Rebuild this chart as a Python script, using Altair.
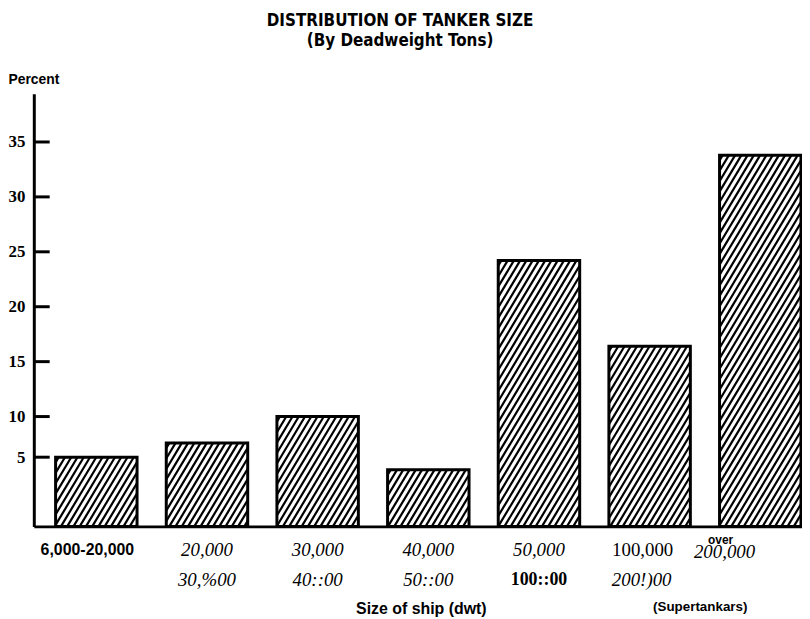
import altair as alt
import pandas as pd

# ---- data ----
line1 = ["6,000-20,000", "20,000", "30,000", "40,000", "50,000", "100,000", "200,000"]
line2 = ["", "30,%00", "40::00", "50::00", "100::00", "200!)00", ""]
percent = [6.3, 7.6, 10.0, 5.15, 24.2, 16.4, 33.8]
tick_vals = [6.3, 10, 15, 20, 25, 30, 35]
tick_labels = ["5", "10", "15", "20", "25", "30", "35"]

# ---- layout ----
W, H = 774, 436
X_DOM = [-0.565, 6.377]
Y_DOM = [0, 39.4]
HALF = 0.368

bars = pd.DataFrame({"idx": list(range(len(percent))), "percent": percent,
                     "l1": line1, "l2": line2})
bars["x0"] = bars["idx"] - HALF
bars["x1"] = bars["idx"] + HALF

# ---- hatch lines (decoration, derived from bar extents) ----
pxx = W / (X_DOM[1] - X_DOM[0])
pxy = H / (Y_DOM[1] - Y_DOM[0])
slope = 0.6 * pxy / pxx       # data-x per data-y
step = 6.3 / pxx              # horizontal spacing in data-x
rows = []
for i, v in enumerate(percent):
    left, right = i - HALF, i + HALF
    xb = left - slope * v + step * 0.5
    while xb < right:
        ys = max(0.0, (left - xb) / slope)
        ye = min(v, (right - xb) / slope)
        if ye > ys:
            rows.append({"hx": xb + slope * ys, "hy": ys,
                         "hx2": xb + slope * ye, "hy2": ye})
        xb += step
hatch = pd.DataFrame(rows)

xs = alt.Scale(domain=X_DOM, nice=False, zero=False)
ys_ = alt.Scale(domain=Y_DOM, nice=False, zero=False)

label_expr = "datum.value < 8 ? '5' : datum.label"

X_AX = alt.Axis(labels=False, ticks=False, grid=False,
                domainColor="black", domainWidth=3,
                title="Size of ship (dwt)", titleFont="Liberation Sans",
                titleFontSize=16, titleFontWeight="bold", titleColor="black",
                titleX=390, titleY=83, titleBaseline="middle")
Y_AX = alt.Axis(values=tick_vals, labelExpr=label_expr, ticks=False, grid=False,
                domainColor="black", domainWidth=3,
                labelFont="Liberation Serif", labelFontSize=17,
                labelFontWeight="bold", labelColor="black", labelPadding=9,
                title="Percent", titleAngle=0, titleAlign="left",
                titleBaseline="middle", titleX=-26, titleY=-14,
                titleFont="Liberation Sans", titleFontSize=14,
                titleFontWeight="bold", titleColor="black")

hatch_layer = alt.Chart(hatch).mark_rule(color="black", strokeWidth=2.2).encode(
    x=alt.X("hx:Q", scale=xs, axis=X_AX),
    y=alt.Y("hy:Q", scale=ys_, axis=Y_AX),
    x2="hx2:Q", y2="hy2:Q",
)

bar_layer = alt.Chart(bars).mark_rect(
    fill="white", fillOpacity=0, stroke="black", strokeWidth=3
).encode(
    x=alt.X("x0:Q", scale=xs, axis=X_AX),
    x2="x1:Q",
    y=alt.Y("percent:Q", scale=ys_, axis=Y_AX),
    y2=alt.datum(0),
)

tick_df = pd.DataFrame({"t": tick_vals, "lab": tick_labels})
tick_layer = alt.Chart(tick_df).mark_rule(color="black", strokeWidth=3).encode(
    y=alt.Y("t:Q", scale=ys_, axis=Y_AX),
    x=alt.value(0), x2=alt.value(16),
)


def label_layer(field, idxs, y, font, size, style="normal", weight="normal", dx=0):
    return alt.Chart(bars).transform_filter(
        alt.FieldOneOfPredicate(field="idx", oneOf=idxs)
    ).mark_text(font=font, fontSize=size, fontStyle=style, fontWeight=weight,
                color="black", baseline="middle", align="center", dx=dx).encode(
        x=alt.X("idx:Q", scale=xs, axis=X_AX),
        y=alt.value(y),
        text=f"{field}:N",
    )


labels = [
    label_layer("l1", [0], 460, "Liberation Sans", 16, weight="bold", dx=-9),
    label_layer("l1", [1, 2, 3, 4], 460, "Liberation Serif", 19, style="italic"),
    label_layer("l1", [5], 460, "Liberation Serif", 19, dx=-7),
    label_layer("l1", [6], 462, "Liberation Serif", 19, style="italic", dx=-36),
    label_layer("l2", [1, 2, 3], 490, "Liberation Serif", 19, style="italic"),
    label_layer("l2", [5], 490, "Liberation Serif", 19, style="italic", dx=-8),
    label_layer("l2", [4], 490, "Liberation Serif", 18, weight="bold"),
]

over_layer = alt.Chart(bars).transform_filter(
    alt.FieldOneOfPredicate(field="idx", oneOf=[6])
).mark_text(text="over", font="Liberation Sans", fontSize=12, fontWeight="bold",
            color="black", baseline="middle", dx=-40).encode(
    x=alt.X("idx:Q", scale=xs, axis=X_AX), y=alt.value(450))

super_layer = alt.Chart(bars).transform_filter(
    alt.FieldOneOfPredicate(field="idx", oneOf=[5])
).mark_text(text="(Supertankars)", font="Liberation Sans", fontSize=13.5,
            fontWeight="bold", color="black", baseline="middle", dx=51).encode(
    x=alt.X("idx:Q", scale=xs, axis=X_AX), y=alt.value(517))

chart = alt.layer(
    hatch_layer, bar_layer, tick_layer, *labels, over_layer, super_layer
).properties(
    width=W, height=H,
    autosize=alt.AutoSizeParams(type="none"),
    padding={"left": 26, "top": 84, "right": 0, "bottom": 90},
    title=alt.TitleParams(
        text=["DISTRIBUTION OF TANKER SIZE", "(By Deadweight Tons)"],
        font="'DejaVu Sans Condensed', 'Roboto Condensed', 'Liberation Sans Narrow', Roboto, sans-serif",
        fontSize=17, fontWeight="bold",
        color="black", anchor="middle", frame="group", dx=-18, offset=23,
        lineHeight=20,
    ),
).configure(background="white").configure_view(stroke="transparent", strokeWidth=0)

chart.save("out.html", embed_options={"renderer": "svg", "actions": False})
